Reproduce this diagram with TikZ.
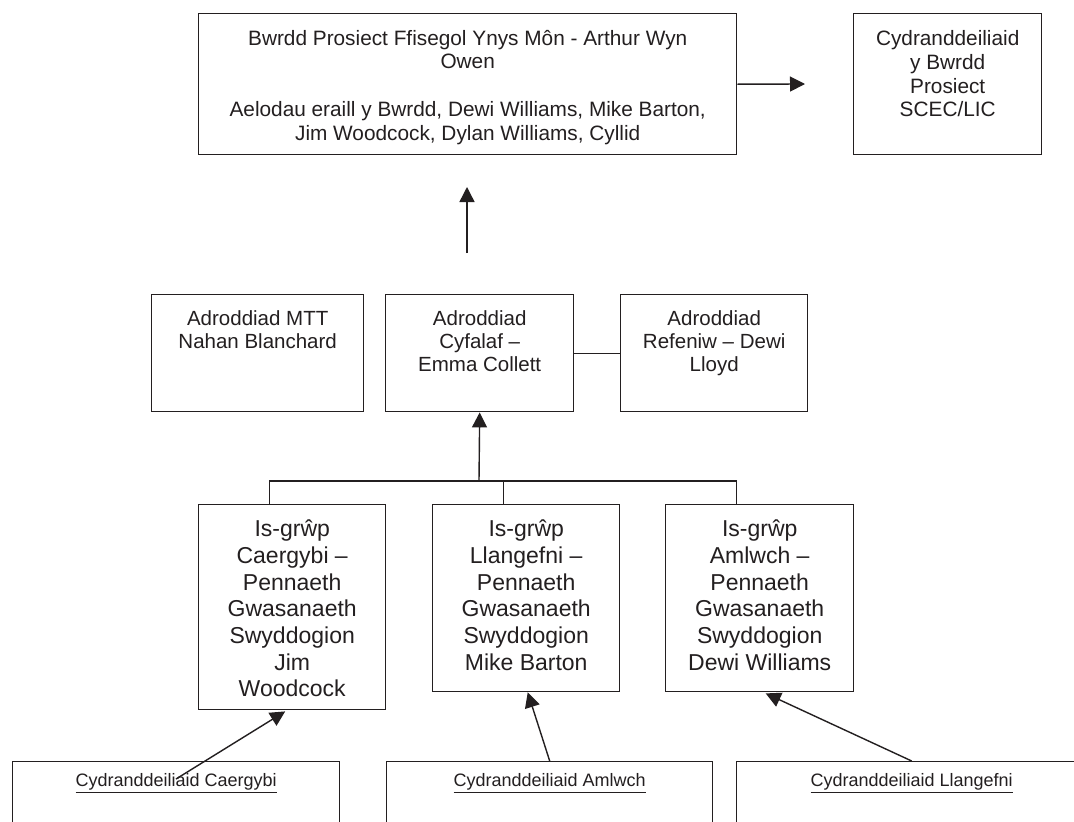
\documentclass[tikz,border=0pt]{standalone}
\usepackage{fontspec}
\setmainfont{Liberation Sans}
\usetikzlibrary{arrows.meta,calc}
\definecolor{ink}{RGB}{35,31,32}
\newcommand{\boxcontent}[4]{\parbox[c][#2][t]{#1}{\centering\rule{0pt}{#3}#4}}
\tikzset{
  box/.style={draw=ink, line width=1.4pt, inner sep=0pt, anchor=north west, text=ink},
  conn/.style={draw=ink, line width=1.4pt},
  arr/.style={conn, -{Triangle[length=15pt,width=15pt]}},
  fbig/.style={font=\fontsize{20.8}{23.7}\selectfont},
  fmid/.style={font=\fontsize{20.5}{23}\selectfont},
  ftier/.style={font=\fontsize{23}{26.7}\selectfont},
  fsmall/.style={font=\fontsize{18}{21}\selectfont}
}
\begin{document}
\begin{tikzpicture}[x=1pt,y=-1pt]
\useasboundingbox (0,0) rectangle (1074,822);
\clip (0,0) rectangle (1074,822);
\fill[white] (0,0) rectangle (1074,822);
% top row
\node[box, fbig] (top) at (198,13) {\boxcontent{538pt}{141pt}{31.5pt}{Bwrdd Prosiect Ffisegol Ynys Môn - Arthur Wyn\\Owen\\[23.7pt]Aelodau eraill y Bwrdd, Dewi Williams, Mike Barton,\\Jim Woodcock, Dylan Williams, Cyllid}};
\node[box, fbig] (stake) at (853,13) {\boxcontent{188pt}{141pt}{32pt}{Cydranddeiliaid\\y Bwrdd\\Prosiect\\SCEC/LIC}};
% middle row
\node[box, fmid] (mtt) at (151,294) {\boxcontent{212pt}{117pt}{31pt}{Adroddiad MTT\\Nahan Blanchard}};
\node[box, fmid] (cyf) at (385,294) {\boxcontent{188pt}{117pt}{31pt}{Adroddiad\\Cyfalaf --\\Emma Collett}};
\node[box, fmid] (ref) at (620,294) {\boxcontent{187pt}{117pt}{31pt}{Adroddiad\\Refeniw -- Dewi\\Lloyd}};
% sub-groups
\node[box, ftier] (cg) at (198,504) {\boxcontent{187pt}{205pt}{32pt}{Is-grŵp\\Caergybi --\\Pennaeth\\Gwasanaeth\\Swyddogion\\Jim\\Woodcock}};
\node[box, ftier] (ll) at (432,504) {\boxcontent{187pt}{187pt}{32pt}{Is-grŵp\\Llangefni --\\Pennaeth\\Gwasanaeth\\Swyddogion\\Mike Barton}};
\node[box, ftier] (am) at (665,504) {\boxcontent{188pt}{187pt}{32pt}{Is-grŵp\\Amlwch --\\Pennaeth\\Gwasanaeth\\Swyddogion\\Dewi Williams}};
% stakeholder boxes (cut by the page edge)
\node[box, fsmall] (bcg) at (12,761) {\boxcontent{327pt}{100pt}{25pt}{\underline{Cydranddeiliaid Caergybi}}};
\node[box, fsmall] (bam) at (386,761) {\boxcontent{326pt}{100pt}{25pt}{\underline{Cydranddeiliaid Amlwch}}};
\node[box, fsmall] (bll) at (736,761) {\boxcontent{350pt}{100pt}{25pt}{\underline{Cydranddeiliaid Llangefni}}};
% free ends
\coordinate (stakeTip) at (805,84);
\coordinate (upTail) at (467,253);
\coordinate (upTip) at (467,187);
\coordinate (bus) at (479,481);
\coordinate (cgStart) at (176,779);
% connectors
\draw[arr] (top.east) -- (stakeTip);
\draw[arr] (upTail) -- (upTip);
\draw[conn] (cyf.east) -- (ref.west);
\draw[conn] ($(cg.north)+(-22.5,0)$) -- ++(0,-23) -| ($(am.north)+(-23,0)$);
\draw[conn] ($(ll.north)+(-22.5,0)$) -- ++(0,-23);
\draw[arr] (bus) -- (cyf.south);
\draw[arr] (cgStart) -- ($(cg.south)+(-7,1)$);
\draw[arr] (bam.north) -- ($(ll.south)+(1.5,0)$);
\draw[arr] (bll.north) -- ($(am.south)+(6,1)$);
\end{tikzpicture}
\end{document}
